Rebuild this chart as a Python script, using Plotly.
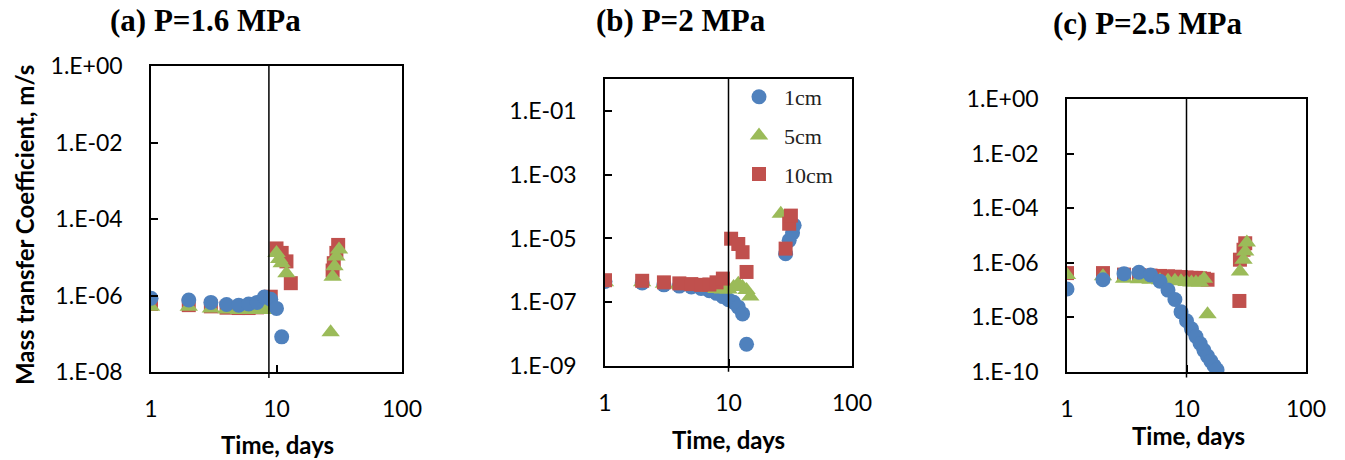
import plotly.graph_objects as go

# ---------------- data ----------------
# Panel (a) P=1.6 MPa
a_blue_x = [1, 2, 3, 4, 5, 6, 7, 8, 9, 10, 11]
a_blue_y = [8.5e-7, 7.6e-7, 6.6e-7, 5.8e-7, 5.6e-7, 6.0e-7, 6.6e-7, 9.1e-7, 8.0e-7, 4.6e-7, 8.3e-8]
a_green_x = [1, 2, 3, 4, 5, 6, 7, 8, 9, 10, 10.5, 11, 12, 27, 28, 29, 30, 31.5]
a_green_y = [5.1e-7, 5.1e-7, 4.6e-7, 4.3e-7, 4.2e-7, 4.2e-7, 4.2e-7, 4.2e-7, 4.5e-7,
             1.3e-5, 9e-6, 7e-6, 3.8e-6, 1.1e-7, 3.1e-6, 5.8e-6, 1.05e-5, 1.6e-5]
a_red_x = [1, 2, 3, 4, 5, 6, 7, 8, 9, 10, 11, 12, 13, 28, 28.6, 30, 31]
a_red_y = [6e-7, 5.6e-7, 5.2e-7, 4.8e-7, 4.7e-7, 4.7e-7, 4.9e-7, 5.2e-7, 9.3e-7,
           1.7e-5, 1.3e-5, 7.8e-6, 2.1e-6, 4.5e-6, 7e-6, 1.3e-5, 2.1e-5]

# Panel (b) P=2 MPa
b_blue_x = [1, 2, 3, 4, 5, 6, 7, 8, 9, 10, 11, 12, 13, 14, 29, 31, 33, 34]
b_blue_y = [4.5e-7, 4e-7, 3.5e-7, 3.2e-7, 3e-7, 2.7e-7, 2.3e-7, 1.9e-7, 1.5e-7, 1.2e-7,
            1e-7, 7e-8, 4.3e-8, 4.8e-9, 3.3e-6, 8.7e-6, 1.5e-5, 2.6e-5]
b_green_x = [1, 2, 3, 4, 5, 6, 7, 8, 9, 10, 11, 12, 13, 14, 15, 26.5]
b_green_y = [4.2e-7, 4.2e-7, 3.8e-7, 3.5e-7, 3.2e-7, 3e-7, 2.8e-7, 2.6e-7, 2.5e-7, 2.5e-7,
             3e-7, 3.8e-7, 3e-7, 2.4e-7, 1.5e-7, 6e-5]
b_red_x = [1, 2, 3, 4, 5, 6, 7, 8, 9, 10.5, 12, 13, 14, 29, 31, 32]
b_red_y = [4.9e-7, 4.7e-7, 4.2e-7, 3.9e-7, 3.7e-7, 3.5e-7, 3.6e-7, 4.2e-7, 5.5e-7,
           9.8e-6, 6.7e-6, 3.7e-6, 8.9e-7, 4.8e-6, 2.9e-5, 5.2e-5]

# Panel (c) P=2.5 MPa
c_blue_x = [1, 2, 3, 4, 5, 6, 7, 8, 9, 10, 11, 12, 13, 14, 15, 16, 17, 18]
c_blue_y = [1.1e-7, 2.4e-7, 4e-7, 4.5e-7, 3.6e-7, 2.1e-7, 1e-7, 4.5e-8, 1.6e-8, 7.5e-9,
            3.8e-9, 2e-9, 1.1e-9, 6.2e-10, 3.8e-10, 2.5e-10, 1.7e-10, 1.2e-10]
c_green_x = [1, 2, 3, 4, 5, 6, 7, 8, 9, 10, 11, 12, 13, 14, 15, 28, 30, 31, 32]
c_green_y = [3.6e-7, 3.2e-7, 2.6e-7, 2.5e-7, 2.4e-7, 2.3e-7, 2.2e-7, 2.2e-7, 2.1e-7, 2e-7,
             1.9e-7, 1.9e-7, 1.9e-7, 2.6e-7, 1.3e-8, 4.8e-7, 1.3e-6, 2.6e-6, 5.5e-6]
c_red_x = [1, 2, 3, 4, 5, 6, 7, 8, 9, 10, 11, 12, 13, 14, 15, 27.7, 28, 30, 31]
c_red_y = [4.2e-7, 4.2e-7, 3.7e-7, 3.5e-7, 3.4e-7, 3.3e-7, 3.2e-7, 3.1e-7, 3e-7, 2.9e-7,
           2.8e-7, 2.8e-7, 2.7e-7, 2.6e-7, 2.4e-7, 4e-8, 1.3e-6, 3e-6, 5.2e-6]

series_names = ["1cm", "5cm", "10cm"]
panel_titles = ["(a) P=1.6 MPa", "(b) P=2 MPa", "(c) P=2.5 MPa"]
x_tick_vals = [1, 10, 100]
x_tick_text = ["1", "10", "100"]
y_tick_exps = [[0, -2, -4, -6, -8], [-1, -3, -5, -7, -9], [0, -2, -4, -6, -8, -10]]
y_ranges = [[-8, 0], [-9, 0], [-10, 0]]
ref_line_x = [8.7, 10, 10]

BLUE = "#4F81BD"
GREEN = "#9BBB59"
RED = "#C0504D"

W, H = 1345, 460
# plot boxes in pixels: left, right, top, bottom
boxes = [(151, 402, 66, 372), (605, 852, 79, 366), (1067, 1306, 99, 372)]

fig = go.Figure()

def add(xa, ya, x, y, color, symbol, name, showleg, size):
    fig.add_trace(go.Scatter(
        x=x, y=y, mode="markers", name=name, legendgroup=name,
        showlegend=showleg, xaxis=xa, yaxis=ya,
        marker=dict(color=color, symbol=symbol, size=size, line=dict(width=0)),
    ))

CS, TS, SS = 15, 16, 14
# panel a: red, green, blue (blue on top)
add("x", "y", a_red_x, a_red_y, RED, "square", "10cm", False, SS)
add("x", "y", a_green_x, a_green_y, GREEN, "triangle-up", "5cm", False, TS)
add("x", "y", a_blue_x, a_blue_y, BLUE, "circle", "1cm", False, CS)
# panel b: blue, green, red (red on top)
add("x2", "y2", b_blue_x, b_blue_y, BLUE, "circle", "1cm", True, CS)
add("x2", "y2", b_green_x, b_green_y, GREEN, "triangle-up", "5cm", True, TS)
add("x2", "y2", b_red_x, b_red_y, RED, "square", "10cm", True, SS)
# panel c: red, green, blue
add("x3", "y3", c_red_x, c_red_y, RED, "square", "10cm", False, SS)
add("x3", "y3", c_green_x, c_green_y, GREEN, "triangle-up", "5cm", False, TS)
add("x3", "y3", c_blue_x, c_blue_y, BLUE, "circle", "1cm", False, CS)

SANS = "Lato, Carlito, sans-serif"
SERIF = "Liberation Serif, Times New Roman, serif"
tick_font = dict(family=SANS, size=23, color="black")
axis_common = dict(showline=True, linecolor="black", linewidth=1.5, mirror=True,
                   ticks="inside", ticklen=7, tickwidth=1.5, tickcolor="black",
                   showgrid=False, zeroline=False, tickfont=tick_font, automargin=False)

layout = {}
annotations = []
shapes = []
for i, (l, r, t, b) in enumerate(boxes):
    sfx = "" if i == 0 else str(i + 1)
    xd = [l / W, r / W]
    yd = [1 - b / H, 1 - t / H]
    layout["xaxis" + sfx] = dict(axis_common, type="log", range=[0, 2], domain=xd,
                                 tickvals=x_tick_vals, ticktext=x_tick_text,
                                 ticklabelstandoff=16,
                                 anchor="y" + sfx)
    exps = y_tick_exps[i]
    layout["yaxis" + sfx] = dict(axis_common, type="log", range=y_ranges[i], domain=yd,
                                 tickvals=[10.0 ** e for e in exps],
                                 ticktext=["1.E+00" if e == 0 else "1.E-%02d" % (-e) for e in exps],
                                 ticklabelstandoff=22,
                                 anchor="x" + sfx)
    shapes.append(dict(type="line", xref="x" + sfx, yref="y" + sfx + " domain",
                       x0=ref_line_x[i], x1=ref_line_x[i], y0=-0.02, y1=1.0,
                       line=dict(color="black", width=1.5)))

# titles
title_pos = [(206, 21), (681, 21), (1147, 23)]
for (cx, cy), txt in zip(title_pos, panel_titles):
    annotations.append(dict(text="<b>" + txt + "</b>", x=cx / W, y=1 - cy / H,
                            xref="paper", yref="paper", xanchor="center", yanchor="middle",
                            showarrow=False,
                            font=dict(family=SERIF, size=31, color="black")))
# x axis titles
xt_pos = [(277, 444), (729, 439), (1188, 435)]
for cx, cy in xt_pos:
    annotations.append(dict(text="<b>Time, days</b>", x=cx / W, y=1 - cy / H,
                            xref="paper", yref="paper", xanchor="center", yanchor="middle",
                            showarrow=False,
                            font=dict(family=SANS, size=24, color="black")))
# y axis title
annotations.append(dict(text="<b>Mass transfer Coefficient, m/s</b>", x=25 / W, y=1 - 225 / H,
                        xref="paper", yref="paper", xanchor="center", yanchor="middle",
                        textangle=-90, showarrow=False,
                        font=dict(family=SANS, size=24, color="black")))

fig.update_layout(
    width=W, height=H, margin=dict(l=0, r=0, t=0, b=0, pad=0, autoexpand=False),
    paper_bgcolor="white", plot_bgcolor="white",
    showlegend=True,
    legend=dict(x=734 / W, y=1 - 76 / H, xanchor="left", yanchor="top",
                bgcolor="rgba(0,0,0,0)", tracegroupgap=7, itemwidth=40,
                font=dict(family=SERIF, size=22, color="#222")),
    annotations=annotations, shapes=shapes,
    **layout,
)

fig.write_html("out.html")
